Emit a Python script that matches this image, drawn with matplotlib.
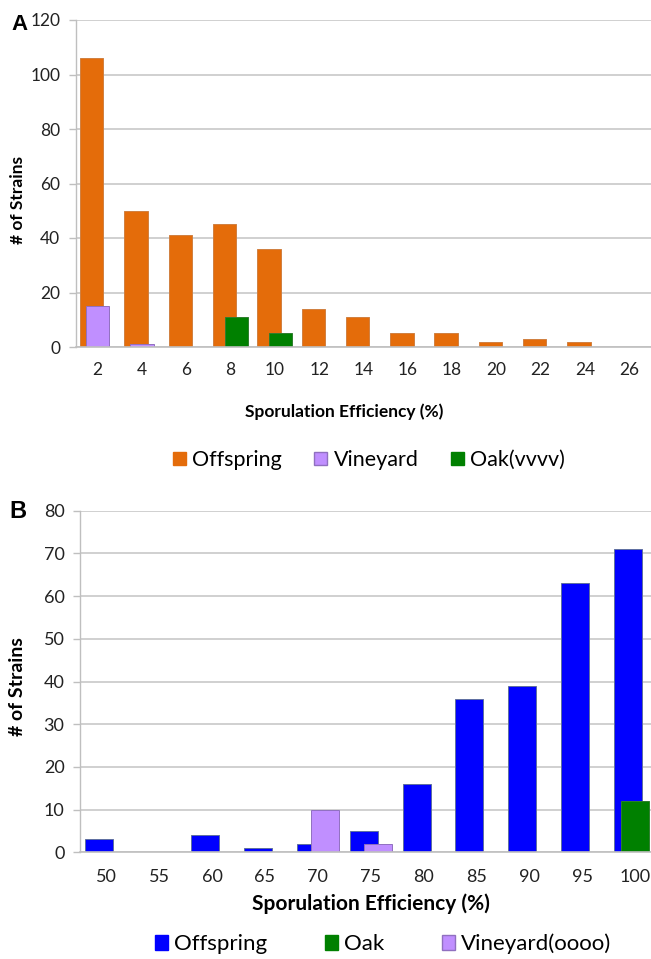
import matplotlib
matplotlib.use("Agg")
import matplotlib.pyplot as plt
from matplotlib.patches import Patch
import numpy as np

plt.rcParams['font.family'] = ['Lato', 'DejaVu Sans']

# Panel A: low sporulation efficiency bins
bins_a = ["2", "4", "6", "8", "10", "12", "14", "16", "18", "20", "22", "24", "26"]
offspring_a = [106, 50, 41, 45, 36, 14, 11, 5, 5, 2, 3, 2, 0]
vineyard_a = [15, 1, 0, 0, 0, 0, 0, 0, 0, 0, 0, 0, 0]
oak_a = [0, 0, 0, 11, 5, 0, 0, 0, 0, 0, 0, 0, 0]

# Panel B: high sporulation efficiency bins
bins_b = ["50", "55", "60", "65", "70", "75", "80", "85", "90", "95", "100"]
offspring_b = [3, 0, 4, 1, 2, 5, 16, 36, 39, 63, 71]
oak_b = [0, 0, 0, 0, 0, 0, 0, 0, 0, 0, 12]
vineyard_b = [0, 0, 0, 0, 10, 2, 0, 0, 0, 0, 0]

ORANGE = "#E46C0A"
PURPLE = "#C08FFF"
GREEN = "#008000"
BLUE = "#0000FF"
GRID = "#C8C8C8"

W, H = 651, 959
fig = plt.figure(figsize=(W / 100, H / 100), dpi=100)

bar_w = 0.53
step = 0.133


def style_axes(ax, ymax, ystep, tick_fs, xpad):
    ax.set_ylim(0, ymax)
    ax.set_yticks(np.arange(0, ymax + 1, ystep))
    ax.yaxis.grid(True, color=GRID, linewidth=1.2)
    ax.set_axisbelow(True)
    for s in ("top", "right"):
        ax.spines[s].set_visible(False)
    ax.spines["left"].set_color("#BFBFBF")
    ax.spines["bottom"].set_color("#BFBFBF")
    ax.spines["left"].set_linewidth(1.0)
    ax.spines["bottom"].set_linewidth(1.2)
    ax.tick_params(axis="y", length=5, width=1.0, color="#BFBFBF", pad=6,
                   labelsize=tick_fs, labelcolor="#222222")
    ax.tick_params(axis="x", length=0, pad=xpad, labelsize=tick_fs,
                   labelcolor="#222222")


def bars(ax, x, vals, offset, color, edge):
    ax.bar(x + offset, vals, width=bar_w, color=color, edgecolor=edge,
           linewidth=0.7)


# ---------------- Panel A ----------------
axA = fig.add_axes([75.5 / W, 1 - 347 / H, (651.4 - 75.5) / W, 327 / H])
xa = np.arange(len(bins_a))
bars(axA, xa, offspring_a, -step, ORANGE, "#D08040")
bars(axA, xa, vineyard_a, 0, PURPLE, "#9070C0")
bars(axA, xa, oak_a, step, GREEN, "#2E7D2E")
axA.set_xlim(-0.5, len(bins_a) - 0.5)
axA.set_xticks(xa)
axA.set_xticklabels(bins_a)
style_axes(axA, 120, 20, 12.5, 11)
axA.set_ylabel("# of Strains", fontsize=12.5, fontweight="bold")
axA.yaxis.set_label_coords(-0.086, 0.45)
axA.set_xlabel("Sporulation Efficiency (%)", fontsize=12.5, fontweight="bold")
axA.xaxis.set_label_coords(0.466, -0.174)

fig.legend(handles=[Patch(facecolor=ORANGE, edgecolor=ORANGE, label="Offspring"),
                    Patch(facecolor=PURPLE, edgecolor="#9070C0", label="Vineyard"),
                    Patch(facecolor=GREEN, edgecolor=GREEN, label="Oak(vvvv)")],
           loc="center", bbox_to_anchor=(369 / W, 1 - 460 / H), ncol=3,
           frameon=False, fontsize=15.5, handlelength=0.6, handleheight=0.6,
           handletextpad=0.3, columnspacing=1.5)

fig.text(20 / W, 1 - 24 / H, "A", fontsize=16, fontweight="bold",
         family="Liberation Sans", ha="center", va="center")

# ---------------- Panel B ----------------
axB = fig.add_axes([79.75 / W, 1 - 852.3 / H, (661.6 - 79.75) / W, 341.6 / H])
xb = np.arange(len(bins_b))
bars(axB, xb, offspring_b, -step, BLUE, "#6070A0")
bars(axB, xb, oak_b, 0, GREEN, "#2E7D2E")
bars(axB, xb, vineyard_b, step, PURPLE, "#9070C0")
axB.set_xlim(-0.5, len(bins_b) - 0.5)
axB.set_xticks(xb)
axB.set_xticklabels(bins_b)
style_axes(axB, 80, 10, 13, 12)
axB.set_ylabel("# of Strains", fontsize=14, fontweight="bold")
axB.yaxis.set_label_coords(-0.092, 0.484)
axB.set_xlabel("Sporulation Efficiency (%)", fontsize=15, fontweight="bold")
axB.xaxis.set_label_coords(0.5, -0.119)

fig.legend(handles=[Patch(facecolor=BLUE, edgecolor=BLUE, label="Offspring"),
                    Patch(facecolor=GREEN, edgecolor=GREEN, label="Oak"),
                    Patch(facecolor=PURPLE, edgecolor="#9070C0", label="Vineyard(oooo)")],
           loc="center", bbox_to_anchor=(383 / W, 1 - 944 / H), ncol=3,
           frameon=False, fontsize=16, handlelength=0.6, handleheight=0.6,
           handletextpad=0.25, columnspacing=2.6)

fig.text(18 / W, 1 - 512 / H, "B", fontsize=17, fontweight="bold",
         family="Liberation Sans", ha="center", va="center")

fig.savefig("out.png", dpi=100)
